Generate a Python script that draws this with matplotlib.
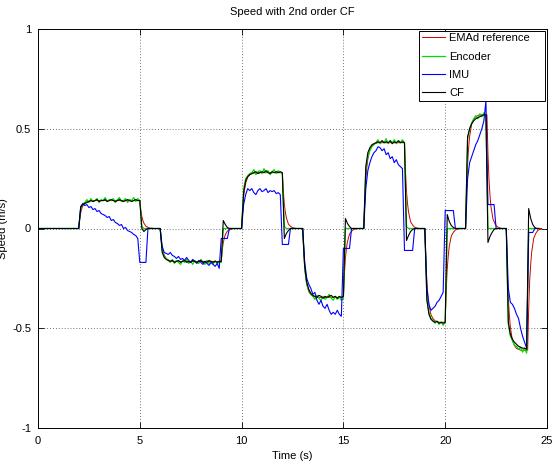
import matplotlib
matplotlib.use('Agg')
from matplotlib import pyplot as plt

plt.rcParams['font.family'] = ['Liberation Sans', 'DejaVu Sans']

STEP = 0.1      # sample spacing of the measured signals (s)
T_END = 24.6

# start of each speed step (s)
seg_start = [2.0, 6.0, 10.0, 13.0, 16.0, 19.0, 21.0, 23.0]

# EMAd reference: samples after each rising / falling edge
ref_fall = [5.0, 9.0, 12.0, 15.0, 18.0, 20.0, 22.05, 24.05]
ref_dt = [0, 0.05, 0.1, 0.15, 0.2, 0.3, 0.4, 0.5, 0.7]
ref_rise = [
    [0, .048, .080, .099, .113, .129, .134, .138, .140],
    [0, -.056, -.094, -.117, -.134, -.152, -.158, -.163, -.165],
    [0, .095, .160, .199, .227, .258, .269, .276, .280],
    [0, -.117, -.197, -.245, -.279, -.317, -.331, -.340, -.345],
    [0, .146, .245, .305, .348, .396, .413, .424, .430],
    [0, -.160, -.268, -.334, -.381, -.432, -.451, -.463, -.470],
    [0, .194, .325, .405, .462, .524, .547, .561, .570],
    [0, -.207, -.348, -.433, -.494, -.561, -.586, -.601, -.610],
]
ref_decay = [
    [.140, .092, .060, .041, .027, .011, .006, .002, 0],
    [-.165, -.109, -.071, -.048, -.031, -.013, -.007, -.002, 0],
    [.280, .185, .120, .081, .053, .022, .011, .004, 0],
    [-.345, -.228, -.148, -.100, -.066, -.028, -.014, -.005, 0],
    [.430, .284, .185, .125, .082, .034, .017, .006, 0],
    [-.470, -.310, -.202, -.136, -.089, -.038, -.019, -.007, 0],
    [.570, .376, .245, .165, .108, .046, .023, .009, 0],
    [-.610, -.403, -.262, -.177, -.116, -.049, -.024, -.009, 0],
]

# Encoder, every 0.1 s from the segment start
enc_vals = [
    [0, .10, .125, .13, .145, .13, .15, .135, .14, .15, .13, .145, .14, .155, .135, .145,
     .14, .15, .13, .145, .155, .135, .14, .15, .13, .145, .14, .155, .135, .15, .14, .01, 0],
    [0, -.11, -.14, -.15, -.16, -.17, -.155, -.175, -.16, -.17, -.18, -.16, -.17, -.155, -.175, -.165,
     -.18, -.16, -.17, -.175, -.155, -.17, -.18, -.16, -.175, -.165, -.18, -.16, -.175, -.17, -.17, 0, 0],
    [0, .2, .25, .265, .275, .28, .295, .27, .285, .29, .275, .3, .28, .29, .27, .285,
     .295, .275, .29, .28, .28, .01, 0],
    [0, -.2, -.28, -.31, -.33, -.34, -.355, -.335, -.35, -.36, -.34, -.355, -.345, -.33, -.35, -.36,
     -.34, -.355, -.345, -.36, -.35, 0, 0],
    [0, .3, .36, .39, .41, .42, .43, .445, .425, .44, .43, .45, .425, .44, .43, .445,
     .425, .44, .43, .445, .43, .01, 0],
    [0, -.35, -.42, -.45, -.46, -.475, -.465, -.48, -.47, -.485, -.47, 0, 0],
    [0, .45, .5, .53, .55, .565, .55, .575, .56, .58, .57, 0, 0],
    [0, -.48, -.54, -.56, -.585, -.59, -.605, -.595, -.62, -.6, -.625, 0, 0],
]

# IMU
imu_vals = [
    [0, .11, .125, .115, .12, .105, .11, .095, .1, .085, .09, .075, .07, .065, .055, .06,
     .04, .045, .03, .025, .015, .02, 0, .005, -.01, -.015, -.02, -.03, -.035, -.05,
     -.17, -.17, -.17, -.17, 0],
    [0, -.09, -.12, -.125, -.13, -.12, -.135, -.14, -.15, -.14, -.155, -.15, -.16, -.145, -.16, -.17,
     -.155, -.165, -.175, -.16, -.17, -.18, -.165, -.175, -.185, -.17, -.18, -.19, -.175, -.2,
     -.05, -.05, -.05, -.05, 0],
    [0, .12, .17, .2, .19, .2, .18, .17, .19, .2, .185, .19, .2, .18, .19, .185,
     .19, .175, .18, .17, -.08, -.08, -.08, -.08, 0],
    [0, -.17, -.25, -.28, -.3, -.33, -.32, -.36, -.38, -.36, -.39, -.4, -.38, -.41, -.43, -.42,
     -.43, -.41, -.43, -.44, -.1, -.1, -.1, -.1, 0],
    [0, .2, .29, .33, .36, .38, .39, .41, .405, .39, .4, .37, .38, .35, .36, .33,
     .345, .32, .31, .3, -.11, -.11, -.11, -.11, -.11, 0],
    [0, -.3, -.38, -.41, -.4, -.39, -.37, -.36, -.34, -.32, .09, .09, .09, .09, .09, 0],
    [0, .25, .33, .36, .39, .42, .44, .47, .5, .54, .64, .12, .12, .12, .12, 0],
    [0, -.3, -.37, -.38, -.4, -.43, -.45, -.5, -.54, -.57, -.6, -.02, -.02, -.02, 0],
]

# 2nd order complementary filter
cf_vals = [
    [0, .11, .12, .125, .13, .135, .14, .135, .14, .145, .135, .14, .14, .145, .135, .14,
     .145, .14, .135, .14, .145, .14, .135, .14, .145, .14, .135, .14, .145, .14, .14,
     0, -.015, -.005, 0],
    [0, -.12, -.145, -.155, -.16, -.165, -.16, -.17, -.165, -.16, -.17, -.165, -.16, -.17, -.165, -.17,
     -.16, -.165, -.17, -.165, -.16, -.17, -.165, -.17, -.16, -.165, -.17, -.165, -.17, -.165, -.165,
     .04, .02, .005, 0],
    [0, .18, .24, .26, .27, .275, .28, .285, .275, .28, .285, .28, .29, .28, .275, .285,
     .28, .285, .28, .285, .28, -.05, -.025, -.01, 0],
    [0, -.19, -.27, -.305, -.325, -.335, -.34, -.345, -.335, -.34, -.35, -.34, -.345, -.34, -.335, -.345,
     -.34, -.35, -.34, -.345, -.34, .05, .025, .01, 0],
    [0, .31, .38, .405, .42, .425, .43, .435, .43, .44, .43, .435, .43, .44, .425, .435,
     .43, .44, .43, .435, .43, -.06, -.035, -.015, -.005, 0],
    [0, -.36, -.43, -.455, -.465, -.47, -.465, -.475, -.47, -.475, -.47, .07, .035, .015, .005, 0],
    [0, .46, .5, .525, .54, .55, .555, .56, .565, .57, .57, -.07, -.04, -.02, -.005, 0],
    [0, -.47, -.53, -.555, -.57, -.58, -.59, -.595, -.6, -.6, -.605, .1, .05, .02, .005, 0],
]

xtick_vals = [0, 5, 10, 15, 20, 25]
ytick_vals = [-1, -0.5, 0, 0.5, 1]
ytick_labels = ['-1', '-0.5', '0', '0.5', '1']


def build(starts, segs):
	t, v = [0.0], [0.0]
	for t0, vals in zip(starts, segs):
		for i, y in enumerate(vals):
			t.append(t0 + i * STEP)
			v.append(y)
	t.append(T_END)
	v.append(0.0)
	return t, v


def build_ref():
	t, v = [0.0], [0.0]
	for t0, t1, up, down in zip(seg_start, ref_fall, ref_rise, ref_decay):
		t += [t0 + d for d in ref_dt]
		v += up
		t += [t1 + d for d in ref_dt]
		v += down
	t.append(T_END)
	v.append(0.0)
	return t, v


ref_t, ref_v = build_ref()
enc_t, enc_v = build(seg_start, enc_vals)
imu_t, imu_v = build(seg_start, imu_vals)
cf_t, cf_v = build(seg_start, cf_vals)

fig = plt.figure(figsize=(5.55, 4.62), dpi=100)
ax = fig.add_axes([38/555., 34/462., 509/555., 399/462.])

ax.plot(ref_t, ref_v, color='#d00000', lw=0.7, label='EMAd reference')
ax.plot(enc_t, enc_v, color='#00dd00', lw=0.9, label='Encoder')
ax.plot(imu_t, imu_v, color='#0000ff', lw=0.8, label='IMU')
ax.plot(cf_t, cf_v, color='k', lw=0.8, label='CF')

ax.set_xlim(0, 25)
ax.set_ylim(-1, 1)
ax.set_xticks(xtick_vals)
ax.set_xticklabels([str(x) for x in xtick_vals])
ax.set_yticks(ytick_vals)
ax.set_yticklabels(ytick_labels)

ax.tick_params(direction='in', length=4, width=0.6, labelsize=8, top=True, right=True)
ax.tick_params(axis='x', pad=6)
ax.tick_params(axis='y', pad=5)
for sp in ax.spines.values():
	sp.set_linewidth(0.7)

ax.set_axisbelow(True)
ax.grid(True, color='#444444', linestyle=(0, (1, 2.5)), linewidth=0.6)

ax.set_title('Speed with 2nd order CF', fontsize=8, pad=10)
ax.set_xlabel('Time (s)', fontsize=8)
ax.xaxis.set_label_coords(0.5, -0.058)
ax.set_ylabel('Speed (m/s)', fontsize=8)
ax.yaxis.set_label_coords(-0.058, 0.5)

# legend box spans px 419..545 horizontally, top at ~31
leg = ax.legend(loc='upper right', bbox_to_anchor=(0.7485, 0.7, 0.2485, 0.296),
                mode='expand', borderaxespad=0,
                fontsize=8, handlelength=2.1, handletextpad=0.35, labelspacing=0.75,
                borderpad=0.25, fancybox=False, framealpha=1)
leg.get_frame().set_edgecolor('k')
leg.get_frame().set_linewidth(0.7)

fig.savefig('out.png', dpi=100)
